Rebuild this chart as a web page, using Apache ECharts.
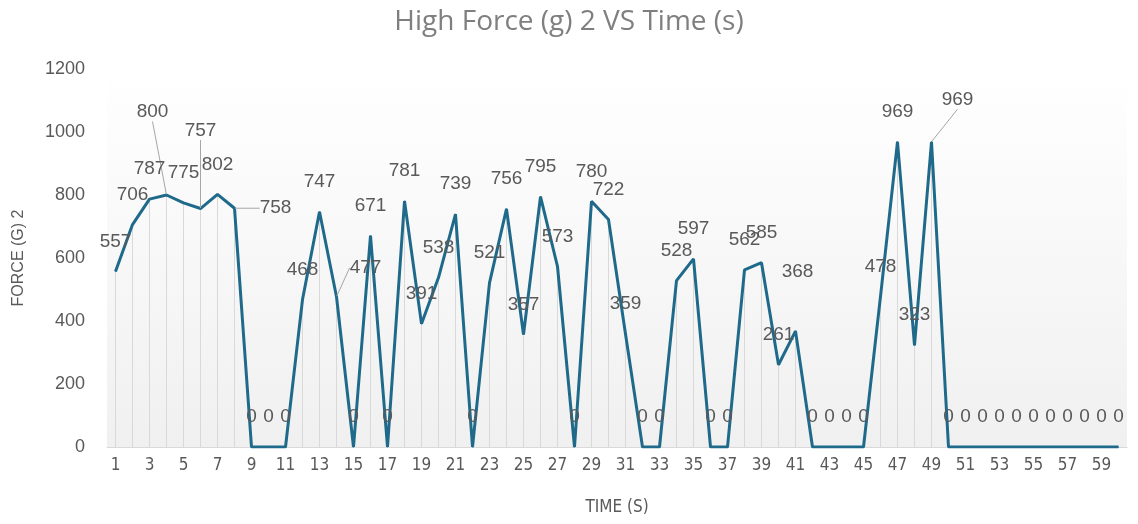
<!DOCTYPE html>
<html>
<head>
<meta charset="utf-8">
<title>High Force (g) 2 VS Time (s)</title>
<script src="https://cdn.jsdelivr.net/npm/echarts@6/dist/echarts.min.js"></script>
<style>
  html, body { margin: 0; padding: 0; background: #ffffff; }
  #chart { width: 1138px; height: 524px; }
</style>
</head>
<body>
<div id="chart"></div>
<script>
// Time stamps (s) along the horizontal axis
const timeSeconds = [
  1, 2, 3, 4, 5, 6, 7, 8, 9, 10,
  11, 12, 13, 14, 15, 16, 17, 18, 19, 20,
  21, 22, 23, 24, 25, 26, 27, 28, 29, 30,
  31, 32, 33, 34, 35, 36, 37, 38, 39, 40,
  41, 42, 43, 44, 45, 46, 47, 48, 49, 50,
  51, 52, 53, 54, 55, 56, 57, 58, 59, 60
];

// Measured high force (g), sensor 2
const highForce2 = [
  557, 706, 787, 800, 775, 757, 802, 758, 0, 0,
  0, 468, 747, 477, 0, 671, 0, 781, 391, 538,
  739, 0, 521, 756, 357, 795, 573, 0, 780, 722,
  359, 0, 0, 528, 597, 0, 0, 562, 585, 261,
  368, 0, 0, 0, 0, 478, 969, 323, 969, 0,
  0, 0, 0, 0, 0, 0, 0, 0, 0, 0
];

// Force axis ticks
const forceTicks = [0, 200, 400, 600, 800, 1000, 1200];

// Data labels nudged away from crowded spots (index -> shift in px),
// drawn with a leader line back to their point
const labelNudges = {
  3: [-14, -53],
  5: [0, -48],
  7: [41, 30],
  13: [29, 1],
  48: [26, -12]
};
// Nudged without a leader line
const labelNudgesPlain = {
  40: [2, -29]
};

const textGray = '#595959';
const lineBlue = '#1f6a8a';

const lineData = highForce2.map(function (v, i) {
  return labelNudges[i] ? { value: v, labelLine: { show: true } } : v;
});

const chart = echarts.init(document.getElementById('chart'), null, { renderer: 'canvas' });

chart.setOption({
  animation: false,
  backgroundColor: '#ffffff',
  title: {
    text: 'High Force (g) 2 VS Time (s)',
    left: 'center',
    top: 3,
    textStyle: {
      fontFamily: 'Open Sans',
      fontSize: 28,
      fontWeight: 'normal',
      color: '#7f7f7f'
    }
  },
  grid: {
    left: 107,
    right: 11,
    top: 69,
    bottom: 77,
    show: true,
    borderWidth: 0,
    backgroundColor: new echarts.graphic.LinearGradient(0, 0, 0, 1, [
      { offset: 0, color: '#ffffff' },
      { offset: 1, color: '#f0f0f0' }
    ])
  },
  xAxis: {
    type: 'category',
    data: timeSeconds,
    boundaryGap: true,
    name: 'TIME (S)',
    nameLocation: 'middle',
    nameGap: 52,
    nameTextStyle: {
      fontFamily: 'Liberation Sans Narrow, DejaVu Sans Condensed, sans-serif',
      fontSize: 17,
      color: textGray
    },
    axisLine: { show: true, lineStyle: { color: '#d9d9d9', width: 1 } },
    axisTick: { show: false },
    axisLabel: {
      interval: 1,
      margin: 10,
      fontFamily: 'Liberation Sans Narrow, DejaVu Sans Condensed, sans-serif',
      fontSize: 17,
      color: textGray
    },
    splitLine: { show: false }
  },
  yAxis: {
    type: 'value',
    min: forceTicks[0],
    max: forceTicks[forceTicks.length - 1],
    interval: forceTicks[1] - forceTicks[0],
    name: 'FORCE (G) 2',
    nameLocation: 'middle',
    nameGap: 80,
    nameTextStyle: {
      fontFamily: 'Liberation Sans',
      fontSize: 16,
      color: textGray
    },
    axisLine: { show: false },
    axisTick: { show: false },
    splitLine: { show: false },
    axisLabel: {
      margin: 22,
      fontFamily: 'Liberation Sans',
      fontSize: 18,
      color: textGray,
      formatter: function (v) { return String(v); }
    }
  },
  series: [
    {
      // drop lines from each point to the axis
      name: 'drop',
      type: 'bar',
      data: highForce2,
      barWidth: 1,
      silent: true,
      itemStyle: { color: '#d9d9d9' },
      z: 1
    },
    {
      name: 'High Force (g) 2',
      type: 'line',
      data: lineData,
      showSymbol: true,
      symbol: 'circle',
      symbolSize: 1,
      lineStyle: { color: lineBlue, width: 3 },
      itemStyle: { color: lineBlue },
      z: 3,
      label: {
        show: true,
        position: 'top',
        distance: 20,
        fontFamily: 'Liberation Sans',
        fontSize: 19,
        color: textGray
      },
      labelLine: {
        show: false,
        lineStyle: { color: '#a6a6a6', width: 1 }
      },
      labelLayout: function (params) {
        const n = labelNudges[params.dataIndex] || labelNudgesPlain[params.dataIndex];
        return n ? { dx: n[0], dy: n[1] } : {};
      }
    }
  ]
});
</script>
</body>
</html>
